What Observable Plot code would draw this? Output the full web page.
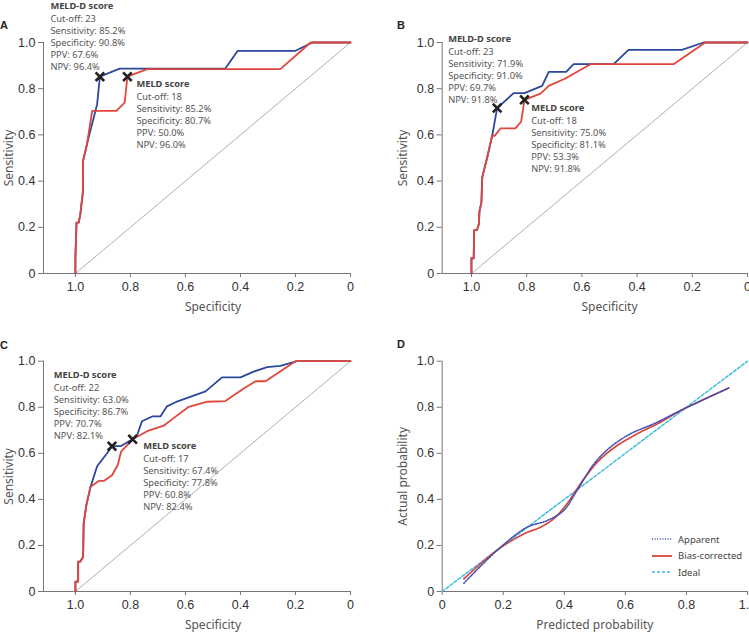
<!DOCTYPE html>
<html>
<head>
<meta charset="utf-8">
<script src="https://cdn.jsdelivr.net/npm/d3@7"></script>
<script src="https://cdn.jsdelivr.net/npm/@observablehq/plot@0.6"></script>
<style>
  html, body { margin: 0; padding: 0; background: #fff; }
  #root { position: relative; width: 749px; height: 636px; overflow: hidden; background: #fff; }
  .panel { position: absolute; }
  .letter { position: absolute; font: bold 11px "Liberation Sans", Arial, sans-serif; line-height: 11px; color: #222; }
  .legend { position: absolute; font: 9.5px "Noto Sans", sans-serif; color: #444; }
  .legend .item { position: absolute; left: 0; height: 14px; display: flex; align-items: center; white-space: nowrap; }
  .legend svg { display: block; margin-right: 6px; }
</style>
</head>
<body>
<div id="root"></div>
<script>
// ---------------- data ----------------
const xTicks = [1, 0.8, 0.6, 0.4, 0.2, 0];
const yTicks = [0, 0.2, 0.4, 0.6, 0.8, 1];
const dTicks = [0, 0.2, 0.4, 0.6, 0.8, 1];
const panelLetters = ["A", "B", "C", "D"];

// Panel A
const aMeldSpec  = [1.0, 1.0, 0.996, 0.988, 0.982, 0.978, 0.973, 0.972, 0.958, 0.939, 0.851, 0.821, 0.811, 0.739, 0.255, 0.145, 0];
const aMeldSens  = [0, 0.07, 0.22, 0.22, 0.257, 0.30, 0.35, 0.488, 0.56, 0.704, 0.704, 0.74, 0.852, 0.885, 0.885, 1.0, 1.0];
const aMeldDSpec = [1.0, 1.0, 0.996, 0.988, 0.982, 0.978, 0.973, 0.972, 0.955, 0.921, 0.911, 0.839, 0.455, 0.41, 0.2, 0.139, 0];
const aMeldDSens = [0, 0.07, 0.22, 0.22, 0.257, 0.30, 0.35, 0.488, 0.574, 0.733, 0.852, 0.887, 0.887, 0.964, 0.964, 1.0, 1.0];
const aCutSpec = [0.911, 0.811];
const aCutSens = [0.852, 0.852];
const aMeldDText = ["MELD-D score", "Cut-off: 23", "Sensitivity: 85.2%", "Specificity: 90.8%", "PPV: 67.6%", "NPV: 96.4%"];
const aMeldText  = ["MELD score", "Cut-off: 18", "Sensitivity: 85.2%", "Specificity: 80.7%", "PPV: 50.0%", "NPV: 96.0%"];

// Panel B
const bMeldSpec  = [1.0, 1.0, 0.992, 0.99, 0.98, 0.973, 0.971, 0.964, 0.961, 0.943, 0.925, 0.916, 0.895, 0.841, 0.82, 0.808, 0.75, 0.72, 0.66, 0.569, 0.268, 0.153, 0];
const bMeldSens  = [0, 0.066, 0.066, 0.188, 0.188, 0.214, 0.27, 0.307, 0.416, 0.502, 0.596, 0.596, 0.628, 0.628, 0.657, 0.752, 0.779, 0.812, 0.844, 0.906, 0.906, 1.0, 1.0];
const bMeldDSpec = [1.0, 1.0, 0.992, 0.99, 0.98, 0.973, 0.971, 0.964, 0.961, 0.943, 0.925, 0.907, 0.847, 0.808, 0.744, 0.72, 0.657, 0.63, 0.485, 0.431, 0.238, 0.159, 0];
const bMeldDSens = [0, 0.066, 0.066, 0.188, 0.188, 0.214, 0.27, 0.307, 0.416, 0.502, 0.596, 0.716, 0.781, 0.781, 0.812, 0.873, 0.873, 0.906, 0.906, 0.968, 0.968, 1.0, 1.0];
const bCutSpec = [0.907, 0.808];
const bCutSens = [0.716, 0.752];
const bMeldDText = ["MELD-D score", "Cut-off: 23", "Sensitivity: 71.9%", "Specificity: 91.0%", "PPV: 69.7%", "NPV: 91.8%"];
const bMeldText  = ["MELD score", "Cut-off: 18", "Sensitivity: 75.0%", "Specificity: 81.1%", "PPV: 53.3%", "NPV: 91.8%"];

// Panel C
const cMeldSpec  = [1.0, 1.0, 0.99, 0.99, 0.982, 0.972, 0.97, 0.96, 0.945, 0.915, 0.897, 0.867, 0.846, 0.834, 0.792, 0.739, 0.679, 0.642, 0.588, 0.521, 0.455, 0.388, 0.345, 0.309, 0.2, 0];
const cMeldSens  = [0, 0.043, 0.043, 0.13, 0.13, 0.15, 0.296, 0.376, 0.455, 0.48, 0.48, 0.505, 0.549, 0.607, 0.661, 0.696, 0.72, 0.754, 0.802, 0.824, 0.827, 0.881, 0.913, 0.913, 1.0, 1.0];
const cMeldDSpec = [1.0, 1.0, 0.99, 0.99, 0.982, 0.972, 0.97, 0.96, 0.945, 0.921, 0.885, 0.867, 0.836, 0.794, 0.776, 0.758, 0.721, 0.691, 0.667, 0.636, 0.527, 0.467, 0.4, 0.352, 0.303, 0.255, 0.194, 0];
const cMeldDSens = [0, 0.043, 0.043, 0.13, 0.13, 0.15, 0.296, 0.376, 0.455, 0.544, 0.6, 0.631, 0.631, 0.66, 0.678, 0.739, 0.76, 0.76, 0.804, 0.822, 0.869, 0.93, 0.93, 0.955, 0.974, 0.98, 1.0, 1.0];
const cCutSpec = [0.867, 0.792];
const cCutSens = [0.631, 0.661];
const cMeldDText = ["MELD-D score", "Cut-off: 22", "Sensitivity: 63.0%", "Specificity: 86.7%", "PPV: 70.7%", "NPV: 82.1%"];
const cMeldText  = ["MELD score", "Cut-off: 17", "Sensitivity: 67.4%", "Specificity: 77.8%", "PPV: 60.8%", "NPV: 82.4%"];

// Panel D (calibration)
const dApparentX = [0.071, 0.185, 0.278, 0.344, 0.398, 0.442, 0.497, 0.551, 0.617, 0.693, 0.781, 0.939];
const dApparentY = [0.036, 0.185, 0.279, 0.308, 0.352, 0.439, 0.554, 0.627, 0.685, 0.728, 0.786, 0.884];
const dBiasX = [0.071, 0.185, 0.267, 0.322, 0.366, 0.409, 0.453, 0.508, 0.573, 0.639, 0.715, 0.781, 0.939];
const dBiasY = [0.055, 0.185, 0.25, 0.279, 0.316, 0.381, 0.468, 0.562, 0.634, 0.685, 0.735, 0.786, 0.884];
const dIdealX = [0, 1];
const dIdealY = [0, 1];
const legendLabels = ["Apparent", "Bias-corrected", "Ideal"];

// ---------------- styles ----------------
const BLUE = "#2a489c", RED = "#e2453a";
const D_BLUE = "#3a4cb4", D_RED = "#d8463c", D_CYAN = "#3dbbe0";
const AX = "#777", TICKTXT = "#333", TITLE = "#555";
const TICKFONT = "'Liberation Sans', Arial, sans-serif";
const NOTE = "'Noto Sans', sans-serif";
const fmt = d => d === 0 ? "0" : d.toFixed(1);
const zip = (xs, ys) => xs.map((x, i) => ({x, y: ys[i]}));

const root = document.getElementById("root");

function place(node, left, top) {
  const w = document.createElement("div");
  w.className = "panel";
  w.style.left = left + "px";
  w.style.top = top + "px";
  w.appendChild(node);
  root.appendChild(w);
}

function annot(point, lines, dx, dy) {
  const fs = 9.3;
  return [
    Plot.text([point], {x: "x", y: "y", text: () => lines[0], dx, dy, textAnchor: "start", lineAnchor: "middle",
      fontFamily: NOTE, fontSize: fs, fontWeight: "bold", fill: "#444"}),
    Plot.text([point], {x: "x", y: "y", text: () => lines.slice(1).join("\n"), dx, dy: dy + 36, textAnchor: "start",
      lineAnchor: "middle", lineHeight: 12 / fs, fontFamily: NOTE, fontSize: fs, fill: "#555"})
  ];
}

function frameMarks(xmin, xmax, ticksX, xTitle, yTitle, yTitleOffset) {
  const xc = (ticksX[0] + ticksX[ticksX.length - 1]) / 2;
  return [
    Plot.ruleY([0], {x1: xmin, x2: xmax, stroke: AX, strokeWidth: 1}),
    Plot.ruleX([xmin], {y1: 0, y2: 1, stroke: AX, strokeWidth: 1}),
    Plot.axisX({ticks: ticksX, tickFormat: fmt, tickSize: 4, tickPadding: 5, stroke: AX, fill: TICKTXT, label: null,
      fontSize: 12.5}),
    Plot.axisY({ticks: yTicks, tickFormat: fmt, tickSize: 5, tickPadding: 3, stroke: AX, fill: TICKTXT, label: null,
      fontSize: 12.5}),
    Plot.text([xc], {x: d => d, frameAnchor: "bottom", text: () => xTitle, lineAnchor: "middle", dy: 34,
      fontFamily: NOTE, fontSize: 12, fill: TITLE}),
    Plot.text([yTitle], {frameAnchor: "left", textAnchor: "middle", lineAnchor: "middle", rotate: -90,
      dx: -yTitleOffset, fontFamily: NOTE, fontSize: 12, fill: TITLE})
  ];
}

function rocPanel(o) {
  const meld = zip(o.meldSpec, o.meldSens);
  const meldD = zip(o.meldDSpec, o.meldDSens);
  const cuts = zip(o.cutSpec, o.cutSens);
  return Plot.plot({
    width: o.width, height: 318,
    marginLeft: o.ml, marginRight: o.mr, marginTop: o.mt, marginBottom: o.mb,
    x: {domain: [o.xmax, 0], axis: null},
    y: {domain: [0, 1], axis: null},
    style: {fontFamily: TICKFONT, fontSize: "12.5px", color: TICKTXT, background: "white", overflow: "hidden"},
    marks: [
      ...frameMarks(o.xmax, 0, xTicks, "Specificity", "Sensitivity", o.yto),
      Plot.line(zip([1, 0], [0, 1]), {x: "x", y: "y", stroke: "#9a9a9a", strokeWidth: 0.8}),
      Plot.line(meldD, {x: "x", y: "y", stroke: BLUE, strokeWidth: 1.8}),
      Plot.line(meld, {x: "x", y: "y", stroke: RED, strokeWidth: 1.8}),
      Plot.dot(cuts, {x: "x", y: "y", symbol: "times", r: 4, stroke: "#222", strokeWidth: 2.6}),
      ...annot(cuts[0], o.meldDText, o.dText[0], o.dText[1]),
      ...annot(cuts[1], o.meldText, o.mText[0], o.mText[1])
    ]
  });
}

place(rocPanel({width: 375, ml: 43, mr: 25, mt: 42, mb: 45, xmax: 1.116, yto: 34,
  meldSpec: aMeldSpec, meldSens: aMeldSens, meldDSpec: aMeldDSpec, meldDSens: aMeldDSens,
  cutSpec: aCutSpec, cutSens: aCutSens, meldDText: aMeldDText, meldText: aMeldText,
  dText: [-49.5, -71], mText: [9, 7]}), 0, 0);

place(rocPanel({width: 374, ml: 66.7, mr: 2, mt: 42, mb: 45, xmax: 1.106, yto: 39,
  meldSpec: bMeldSpec, meldSens: bMeldSens, meldDSpec: bMeldDSpec, meldDSens: bMeldDSens,
  cutSpec: bCutSpec, cutSens: bCutSens, meldDText: bMeldDText, meldText: bMeldText,
  dText: [-49, -69.3], mText: [6.7, 8]}), 375, 0);

place(rocPanel({width: 375, ml: 43, mr: 25, mt: 42.7, mb: 45, xmax: 1.116, yto: 34,
  meldSpec: cMeldSpec, meldSens: cMeldSens, meldDSpec: cMeldDSpec, meldDSens: cMeldDSens,
  cutSpec: cCutSpec, cutSens: cCutSens, meldDText: cMeldDText, meldText: cMeldText,
  dText: [-58.3, -71], mText: [10.5, 7]}), 0, 318);

// Panel D
const dPlot = Plot.plot({
  width: 374, height: 318,
  marginLeft: 66.7, marginRight: 2, marginTop: 42.7, marginBottom: 45,
  x: {domain: [0, 1], axis: null},
  y: {domain: [0, 1], axis: null},
  style: {fontFamily: TICKFONT, fontSize: "12.5px", color: TICKTXT, background: "white", overflow: "hidden"},
  marks: [
    ...frameMarks(0, 1, dTicks, "Predicted probability", "Actual probability", 39),
    Plot.line(zip(dIdealX, dIdealY), {x: "x", y: "y", stroke: D_CYAN, strokeWidth: 1.5, strokeDasharray: "3,2"}),
    Plot.line(zip(dBiasX, dBiasY), {x: "x", y: "y", stroke: D_RED, strokeWidth: 1.7, curve: "catmull-rom"}),
    Plot.line(zip(dApparentX, dApparentY), {x: "x", y: "y", stroke: D_BLUE, strokeWidth: 1.6, strokeDasharray: "1,1.6", curve: "catmull-rom"})
  ]
});
place(dPlot, 375, 318);

// Legend for D
const legend = document.createElement("div");
legend.className = "legend";
legend.style.left = "652px";
legend.style.top = "532px";
const legendStyles = [
  {stroke: D_BLUE, dash: "1,1.6", w: 1.6},
  {stroke: D_RED, dash: null, w: 1.8},
  {stroke: D_CYAN, dash: "3,2", w: 1.5}
];
legendLabels.forEach((lab, i) => {
  const item = document.createElement("div");
  item.className = "item";
  item.style.top = (i * 16.7) + "px";
  const s = legendStyles[i];
  item.innerHTML = `<svg width="20" height="14"><line x1="0" x2="20" y1="7" y2="7" stroke="${s.stroke}" stroke-width="${s.w}" ${s.dash ? `stroke-dasharray="${s.dash}"` : ""}/></svg><span>${lab}</span>`;
  legend.appendChild(item);
});
root.appendChild(legend);

// Panel letters
const letterPos = [[0, 19.5], [397, 19.5], [0, 339.5], [397, 339]];
panelLetters.forEach((L, i) => {
  const d = document.createElement("div");
  d.className = "letter";
  d.textContent = L;
  d.style.left = letterPos[i][0] + "px";
  d.style.top = letterPos[i][1] + "px";
  root.appendChild(d);
});
</script>
</body>
</html>
